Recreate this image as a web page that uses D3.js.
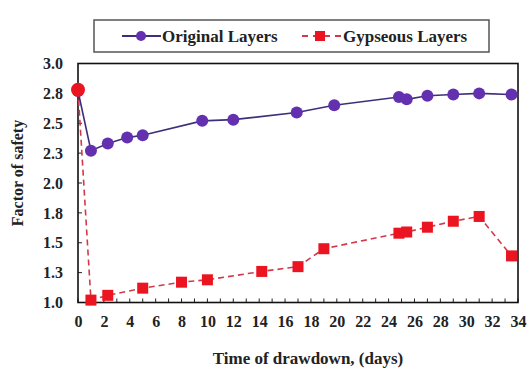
<!DOCTYPE html>
<html>
<head>
<meta charset="utf-8">
<script src="https://cdn.jsdelivr.net/npm/d3@7"></script>
<style>
  body { margin: 0; background: #fff; }
  text { font-family: "Liberation Serif", "Times New Roman", serif; font-weight: bold; fill: #222; }
</style>
</head>
<body>
<div id="chart"></div>
<script>
// time of drawdown (days) and factor of safety
const originalDays = [0, 1, 2.3, 3.8, 5, 9.6, 12, 16.9, 19.8, 24.8, 25.4, 27, 29, 31, 33.5]
const originalFos = [2.77, 2.27, 2.33, 2.38, 2.40, 2.52, 2.53, 2.59, 2.65, 2.72, 2.70, 2.73, 2.74, 2.75, 2.74]
const gypseousDays = [0, 1, 2.3, 5, 8, 10, 14.2, 17, 19, 24.8, 25.4, 27, 29, 31, 33.5]
const gypseousFos = [2.78, 1.02, 1.06, 1.12, 1.17, 1.19, 1.26, 1.30, 1.45, 1.58, 1.59, 1.63, 1.68, 1.72, 1.39]
const yTicks = [1.0, 1.25, 1.5, 1.75, 2.0, 2.25, 2.5, 2.75, 3.0]
const xTicks = d3.range(0, 35, 2)

const W = 529, H = 370
const m = { left: 78, right: 11, top: 63.5, bottom: 67.5 }
const iw = W - m.left - m.right, ih = H - m.top - m.bottom

const svg = d3.select("#chart").append("svg").attr("width", W).attr("height", H)

const xs = d3.scaleLinear().domain([0, 34]).range([0, iw])
const ys = d3.scaleLinear().domain([1, 3]).range([ih, 0])

const g = svg.append("g").attr("transform", `translate(${m.left},${m.top})`)

// minor ticks inside the frame
g.append("g").selectAll("line").data(d3.range(0, 35, 1)).join("line")
	.attr("x1", d => xs(d)).attr("x2", d => xs(d))
	.attr("y1", ih).attr("y2", ih - 4)
	.attr("stroke", "#222").attr("stroke-width", 1)
g.append("g").selectAll("line").data(yTicks).join("line")
	.attr("x1", 0).attr("x2", 4)
	.attr("y1", d => ys(d)).attr("y2", d => ys(d))
	.attr("stroke", "#222").attr("stroke-width", 1)

// axes
const xAxis = g.append("g").attr("transform", `translate(0,${ih})`)
	.call(d3.axisBottom(xs).tickValues(xTicks).tickSize(0).tickPadding(13).tickFormat(d3.format("d")))
const yAxis = g.append("g")
	.call(d3.axisLeft(ys).tickValues(yTicks).tickSize(0).tickPadding(15).tickFormat(d3.format(".1f")))
;[xAxis, yAxis].forEach(a => {
	a.select(".domain").remove()
	a.selectAll("text").style("font-size", "16px").style("font-family", "Liberation Serif").style("font-weight", "bold").attr("fill", "#222")
})

// frame
g.append("rect").attr("width", iw).attr("height", ih)
	.attr("fill", "none").attr("stroke", "#111").attr("stroke-width", 1.6)

const origData = originalDays.map((d, i) => ({ x: d, y: originalFos[i] }))
const gypData = gypseousDays.map((d, i) => ({ x: d, y: gypseousFos[i] }))
const line = d3.line().x(d => xs(d.x)).y(d => ys(d.y))

g.append("path").datum(gypData).attr("d", line)
	.attr("fill", "none").attr("stroke", "#d23a4a").attr("stroke-width", 1.6).attr("stroke-dasharray", "6,4")
g.append("path").datum(origData).attr("d", line)
	.attr("fill", "none").attr("stroke", "#3e2f7a").attr("stroke-width", 1.6)

g.append("g").selectAll("circle").data(origData).join("circle")
	.attr("cx", d => xs(d.x)).attr("cy", d => ys(d.y)).attr("r", 6)
	.attr("fill", "#6330b0")

g.append("g").selectAll("rect").data(gypData.slice(1)).join("rect")
	.attr("x", d => xs(d.x) - 5.5).attr("y", d => ys(d.y) - 5.5)
	.attr("width", 11).attr("height", 11).attr("fill", "#ea1520")
// first gypseous point is drawn as a circle
g.append("circle").attr("cx", xs(gypData[0].x)).attr("cy", ys(gypData[0].y)).attr("r", 7).attr("fill", "#ea1520")

// axis titles
svg.append("text").attr("x", m.left + iw / 2 + 10).attr("y", 364).attr("text-anchor", "middle")
	.style("font-size", "17px").text("Time of drawdown, (days)")
svg.append("text").attr("transform", `translate(23,${m.top + ih / 2 - 10}) rotate(-90)`).attr("text-anchor", "middle")
	.style("font-size", "16px").text("Factor of safety")

// legend
const lg = svg.append("g")
lg.append("rect").attr("x", 94).attr("y", 20).attr("width", 395).attr("height", 32)
	.attr("fill", "#fff").attr("stroke", "#555").attr("stroke-width", 1.5)
lg.append("line").attr("x1", 122).attr("x2", 161).attr("y1", 36).attr("y2", 36)
	.attr("stroke", "#3e2f7a").attr("stroke-width", 1.8)
lg.append("circle").attr("cx", 141).attr("cy", 36).attr("r", 5).attr("fill", "#6330b0")
lg.append("text").attr("x", 162).attr("y", 42).style("font-size", "17px").text("Original Layers")
lg.append("line").attr("x1", 302).attr("x2", 342).attr("y1", 36).attr("y2", 36)
	.attr("stroke", "#d23a4a").attr("stroke-width", 1.8).attr("stroke-dasharray", "6,5")
lg.append("rect").attr("x", 315).attr("y", 31).attr("width", 10).attr("height", 10).attr("fill", "#ea1520")
lg.append("text").attr("x", 343).attr("y", 42).style("font-size", "17px").text("Gypseous Layers")
</script>
</body>
</html>
